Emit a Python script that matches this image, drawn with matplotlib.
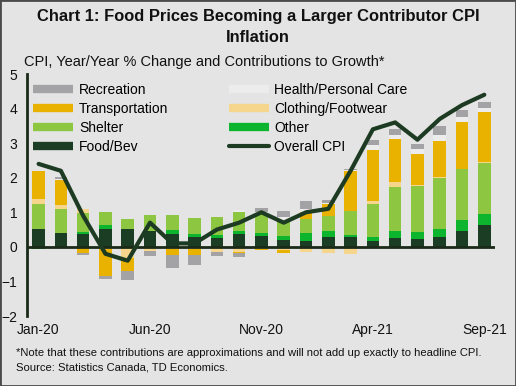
import matplotlib
matplotlib.use("Agg")
import matplotlib.pyplot as plt
from matplotlib.lines import Line2D
from matplotlib.patches import Rectangle
import numpy as np

plt.rcParams['font.family'] = ['Liberation Sans', 'DejaVu Sans']

months = ["Jan-20", "Feb-20", "Mar-20", "Apr-20", "May-20", "Jun-20", "Jul-20",
          "Aug-20", "Sep-20", "Oct-20", "Nov-20", "Dec-20", "Jan-21", "Feb-21",
          "Mar-21", "Apr-21", "May-21", "Jun-21", "Jul-21", "Aug-21", "Sep-21"]

food_bev = [0.51, 0.40, 0.37, 0.53, 0.51, 0.45, 0.36, 0.28, 0.25, 0.37, 0.32,
            0.19, 0.17, 0.29, 0.29, 0.16, 0.25, 0.22, 0.29, 0.45, 0.63]
other = [-0.05, 0.00, 0.06, 0.09, 0.00, 0.00, 0.13, 0.08, 0.08, 0.09, 0.09,
         0.12, 0.23, 0.16, 0.05, 0.13, 0.21, 0.20, 0.23, 0.32, 0.32]
shelter = [0.72, 0.70, 0.56, 0.40, 0.29, 0.47, 0.43, 0.47, 0.53, 0.56, 0.56,
           0.40, 0.40, 0.44, 0.70, 0.95, 1.28, 1.33, 1.48, 1.47, 1.47]
clothing = [0.15, 0.12, 0.10, -0.05, -0.31, -0.13, -0.07, -0.05, -0.15, -0.16, -0.06,
            -0.10, -0.14, -0.17, -0.21, 0.09, 0.14, 0.04, 0.03, 0.00, 0.03]
transportation = [0.81, 0.70, -0.17, -0.80, -0.40, 0.00, -0.17, -0.19, 0.00, -0.03, -0.04,
                  -0.08, 0.21, 0.34, 1.14, 1.48, 1.23, 0.91, 1.03, 1.38, 1.44]
health = [0.00, 0.05, 0.00, 0.00, 0.00, 0.00, 0.00, 0.00, 0.00, 0.05, 0.05,
          0.16, 0.08, 0.04, 0.03, 0.14, 0.13, 0.12, 0.17, 0.14, 0.14]
recreation = [0.00, 0.05, -0.06, -0.09, -0.26, -0.12, -0.37, -0.29, -0.12, -0.10, 0.10,
              0.17, 0.23, 0.09, 0.05, 0.14, 0.18, 0.15, 0.26, 0.19, 0.17]
overall_cpi = [2.4, 2.2, 0.9, -0.2, -0.4, 0.7, 0.1, 0.1, 0.5, 0.7, 1.0,
               0.7, 1.0, 1.1, 2.2, 3.4, 3.6, 3.1, 3.7, 4.1, 4.4]

BG = '#e4e4e4'
C_FOOD = '#1b3d23'
C_OTHER = '#0db52f'
C_SHELTER = '#8dc641'
C_CLOTH = '#f5d68c'
C_TRANS = '#e9b200'
C_HEALTH = '#ececec'
C_REC = '#a3a3a6'
C_LINE = '#1d3b22'

fig = plt.figure(figsize=(5.16, 3.86), dpi=100, facecolor=BG)
ax = fig.add_axes([27/516, 1-316/386, (495-27)/516, (316-74)/386])
ax.set_facecolor(BG)

x = np.arange(len(months))
series = [(food_bev, C_FOOD), (other, C_OTHER), (shelter, C_SHELTER),
          (clothing, C_CLOTH), (transportation, C_TRANS), (health, C_HEALTH),
          (recreation, C_REC)]
pos = np.zeros(len(months))
neg = np.zeros(len(months))
w = 0.56
for vals, col in series:
    v = np.array(vals)
    p = np.where(v > 0, v, 0)
    n = np.where(v < 0, v, 0)
    ax.bar(x, p, w, bottom=pos, color=col, linewidth=0, zorder=2)
    ax.bar(x, n, w, bottom=neg, color=col, linewidth=0, zorder=2)
    pos += p
    neg += n

ax.axhline(0, color='#1a2a18', lw=2, zorder=3)
ax.plot(x, overall_cpi, color=C_LINE, lw=3, solid_capstyle='round',
        solid_joinstyle='round', zorder=4)

ax.set_xlim(-0.52, 20.48)
ax.set_ylim(-2, 5)
ax.set_yticks(range(-2, 6))
ax.set_xticks(x[::5])
ax.set_xticklabels(months[::5])
ax.tick_params(axis='both', length=0, labelsize=10, colors='#111111')
ax.tick_params(axis='y', pad=7)
ax.tick_params(axis='x', pad=5)
for s in ['top', 'right', 'bottom']:
    ax.spines[s].set_visible(False)
ax.spines['left'].set_color('#1a2a18')
ax.spines['left'].set_linewidth(2)

handles = [Line2D([], [], color=C_REC, lw=6, solid_capstyle='butt'),
           Line2D([], [], color=C_TRANS, lw=6, solid_capstyle='butt'),
           Line2D([], [], color=C_SHELTER, lw=6, solid_capstyle='butt'),
           Line2D([], [], color=C_FOOD, lw=6, solid_capstyle='butt'),
           Line2D([], [], color=C_HEALTH, lw=6, solid_capstyle='butt'),
           Line2D([], [], color=C_CLOTH, lw=6, solid_capstyle='butt'),
           Line2D([], [], color=C_OTHER, lw=6, solid_capstyle='butt'),
           Line2D([], [], color=C_LINE, lw=3, solid_capstyle='round')]
labels = ["Recreation", "Transportation", "Shelter", "Food/Bev",
          "Health/Personal Care", "Clothing/Footwear", "Other", "Overall CPI"]
ax.legend(handles, labels, ncol=2, loc='upper left',
          bbox_to_anchor=(33/516, 1-83/386), bbox_transform=fig.transFigure,
          frameon=False, fontsize=10, handlelength=2.9, handletextpad=0.4,
          labelspacing=0.36, columnspacing=4.35, borderpad=0, borderaxespad=0)

fig.text(0.5, 1-17/386, "Chart 1: Food Prices Becoming a Larger Contributor CPI",
         ha='center', va='center', fontsize=11.9, fontweight='bold', color='#111111')
fig.text(0.5, 1-37/386, "Inflation", ha='center', va='center', fontsize=11.9,
         fontweight='bold', color='#111111')
fig.text(24/516, 1-62/386, "CPI, Year/Year % Change and Contributions to Growth*",
         ha='left', va='center', fontsize=10.5, color='#111111')
fig.text(16/516, 1-353/386,
         "*Note that these contributions are approximations and will not add up exactly to headline CPI.",
         ha='left', va='center', fontsize=8.1, color='#111111')
fig.text(16/516, 1-367/386, "Source: Statistics Canada, TD Economics.",
         ha='left', va='center', fontsize=8.1, color='#111111')

fig.patches.append(Rectangle((0, 0), 1, 1, transform=fig.transFigure, fill=False,
                             edgecolor='#4a4a4a', lw=2))

fig.savefig("out.png", dpi=100, facecolor=BG)
